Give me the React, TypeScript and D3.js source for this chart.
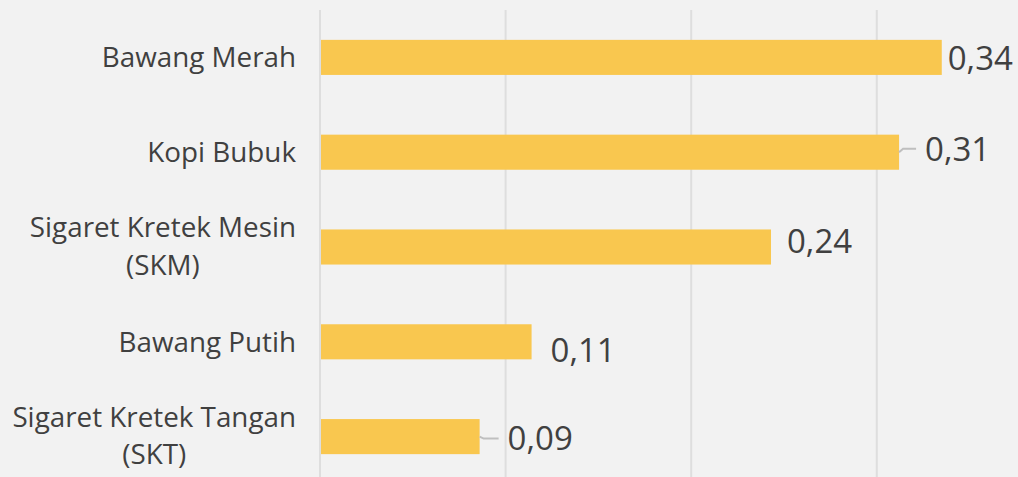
import React, { useEffect, useRef } from "react";
import * as d3 from "d3";

const categoryLines: string[][] = [
  ["Bawang Merah"],
  ["Kopi Bubuk"],
  ["Sigaret Kretek Mesin", "(SKM)"],
  ["Bawang Putih"],
  ["Sigaret Kretek Tangan", "(SKT)"],
];
const values = [0.335, 0.312, 0.243, 0.114, 0.086];
const valueLabels = ["0,34", "0,31", "0,24", "0,11", "0,09"];
const gridTicks = [0, 0.1, 0.2, 0.3, 0.4];

// label layout (offsets from bar end / bar centre), leader-line flag
const labelDx = [6, 26, 16, 19, 28];
const labelDy = [0.5, -3.5, -5.5, 8, 2];
const hasLeader = [false, true, false, false, true];

const W = 1018;
const H = 477;
const FONT = "'Open Sans', Lato, sans-serif";

export default function App() {
  const ref = useRef<SVGSVGElement | null>(null);

  useEffect(() => {
    const svg = d3.select(ref.current);
    svg.selectAll("*").remove();

    const x = d3.scaleLinear().domain([0, 0.4]).range([320, 320 + 1856 * 0.4]);
    const y = d3
      .scaleBand<number>()
      .domain(values.map((_, i) => i))
      .range([10, 10 + 5 * 94.8])
      .paddingInner(0.63)
      .paddingOuter(0.315);

    svg.append("rect").attr("width", W).attr("height", H).attr("fill", "#f2f2f2");

    svg
      .append("g")
      .selectAll("line")
      .data(gridTicks)
      .join("line")
      .attr("x1", (d) => x(d))
      .attr("x2", (d) => x(d))
      .attr("y1", 10)
      .attr("y2", H)
      .attr("stroke", "#dedede")
      .attr("stroke-width", 2);

    svg
      .append("g")
      .selectAll("rect")
      .data(values)
      .join("rect")
      .attr("x", x(0) + 1)
      .attr("y", (_, i) => y(i)!)
      .attr("width", (d) => x(d) - x(0) - 1)
      .attr("height", y.bandwidth())
      .attr("fill", "#F9C74F");

    // leader lines
    values.forEach((v, i) => {
      if (!hasLeader[i]) return;
      const bx = x(v);
      const cy = y(i)! + y.bandwidth() / 2;
      const ly = cy + labelDy[i];
      const lx = bx + labelDx[i] - 9;
      const path = d3.path();
      path.moveTo(bx, cy);
      if (Math.abs(ly - cy) > 1) path.lineTo(bx + 4, ly);
      path.lineTo(lx, ly);
      svg
        .append("path")
        .attr("d", path.toString())
        .attr("fill", "none")
        .attr("stroke", "#bfbfbf")
        .attr("stroke-width", 2);
    });

    // value labels
    svg
      .append("g")
      .selectAll("text")
      .data(values)
      .join("text")
      .attr("x", (d, i) => x(d) + labelDx[i])
      .attr("y", (_, i) => y(i)! + y.bandwidth() / 2 + labelDy[i] + 11.8)
      .attr("font-family", FONT)
      .attr("font-size", 33)
      .attr("fill", "#404040")
      .text((_, i) => valueLabels[i]);

    // category labels
    const right = 296;
    const catSize = 27.8;
    categoryLines.forEach((lines, i) => {
      const cy = y(i)! + y.bandwidth() / 2;
      const g = svg.append("g");
      if (lines.length === 1) {
        g.append("text")
          .attr("x", right)
          .attr("y", cy + 9.8)
          .attr("text-anchor", "end")
          .attr("font-family", FONT)
          .attr("font-size", catSize)
          .attr("fill", "#404040")
          .text(lines[0]);
      } else {
        const t1 = g
          .append("text")
          .attr("x", right)
          .attr("y", cy - 9.8)
          .attr("text-anchor", "end")
          .attr("font-family", FONT)
          .attr("font-size", catSize)
          .attr("fill", "#404040")
          .text(lines[0]);
        const w1 = (t1.node() as SVGTextElement).getComputedTextLength();
        g.append("text")
          .attr("x", right - w1 / 2)
          .attr("y", cy + 27.5)
          .attr("text-anchor", "middle")
          .attr("font-family", FONT)
          .attr("font-size", catSize)
          .attr("fill", "#404040")
          .text(lines[1]);
      }
    });
  }, []);

  return (
    <svg
      ref={ref}
      width={W}
      height={H}
      style={{ position: "absolute", left: 0, top: 0, display: "block" }}
    />
  );
}
